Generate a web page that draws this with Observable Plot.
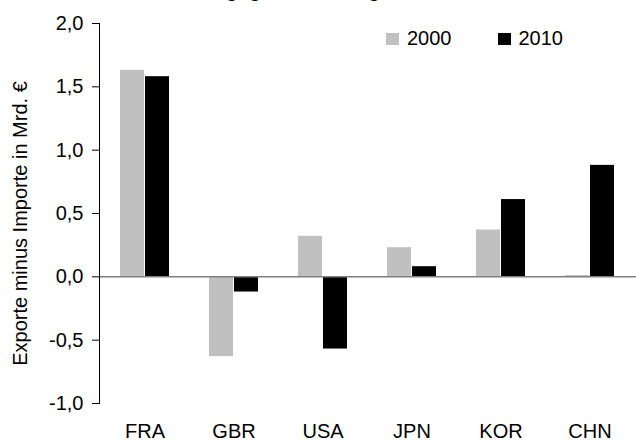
<!DOCTYPE html>
<html>
<head>
<meta charset="utf-8">
<script src="https://cdn.jsdelivr.net/npm/d3@7"></script>
<script src="https://cdn.jsdelivr.net/npm/@observablehq/plot@0.6"></script>
<style>
  body { margin: 0; background: #fff; font-family: Arial, "Liberation Sans", sans-serif; }
  #wrap { position: relative; width: 636px; height: 442px; overflow: hidden; }
  #title { position: absolute; left: 0; width: 636px; top: -21px; text-align: center; font-size: 20px; font-weight: bold; color: #000; line-height: 22px; white-space: nowrap; }
  #legend { position: absolute; top: 27px; left: 386px; font-size: 20px; color: #000; display: flex; align-items: center; }
  .sw { display: inline-block; width: 13px; height: 12px; margin-right: 8px; }
  .item { display: flex; align-items: center; margin-right: 46px; }
</style>
</head>
<body>
<div id="wrap">
  <div id="title">Handelsbilanz gegenüber ausgewählten Ländern</div>
  <div id="chart"></div>
  <div id="legend"></div>
</div>
<script>
const countries = ["FRA", "GBR", "USA", "JPN", "KOR", "CHN"];
const years = ["2000", "2010"];
const values2000 = [1.63, -0.63, 0.32, 0.23, 0.37, 0.01];
const values2010 = [1.58, -0.12, -0.57, 0.08, 0.61, 0.88];
const yTicks = [-1, -0.5, 0, 0.5, 1, 1.5, 2];
const yLabel = "Exporte minus Importe in Mrd. €";
const colors = ["#c0c0c0", "#000000"];

const d2000 = countries.map((c, i) => ({country: c, year: years[0], value: values2000[i]}));
const d2010 = countries.map((c, i) => ({country: c, year: years[1], value: values2010[i]}));
const fmt = d => d.toFixed(1).replace(".", ",");

const chart = Plot.plot({
  width: 636,
  height: 442,
  marginLeft: 99,
  marginRight: 0,
  marginTop: 23,
  marginBottom: 39,
  style: {fontFamily: "Arial, 'Liberation Sans', sans-serif", fontSize: "20px", color: "#000", background: "#fff"},
  x: {type: "band", domain: countries, range: [97, 636], padding: 0, axis: null},
  y: {domain: [-1, 2], axis: null},
  marks: [
    Plot.barY(d2000, {x: "country", y: "value", fill: colors[0], insetLeft: 20, insetRight: 45}),
    Plot.barY(d2010, {x: "country", y: "value", fill: colors[1], insetLeft: 45, insetRight: 20}),
    Plot.ruleY([0], {stroke: "#808080", strokeWidth: 1.5}),
    Plot.frame({anchor: "left", stroke: "#000"}),
    Plot.axisY({ticks: yTicks, tickFormat: fmt, tickSize: 7, tickPadding: 9, fontSize: 20, stroke: "#000", label: null}),
    Plot.axisX({tickSize: 0, tickPadding: 20, fontSize: 20, label: null}),
    Plot.text([yLabel], {frameAnchor: "left", textAnchor: "middle", dx: -79, dy: 10, rotate: -90, fontSize: 20, fill: "#000"})
  ]
});
document.getElementById("chart").appendChild(chart);

const legend = document.getElementById("legend");
years.forEach((y, i) => {
  const item = document.createElement("div");
  item.className = "item";
  const sw = document.createElement("span");
  sw.className = "sw";
  sw.style.background = colors[i];
  item.appendChild(sw);
  item.appendChild(document.createTextNode(y));
  legend.appendChild(item);
});
</script>
</body>
</html>
